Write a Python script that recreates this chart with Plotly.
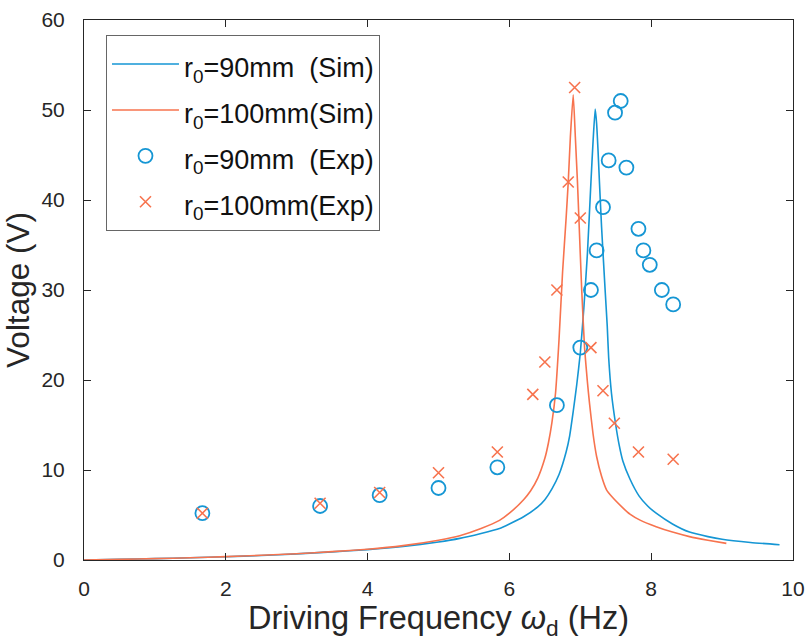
import plotly.graph_objects as go

# ---- data ----
sim90_x = [0, 0.5, 1, 1.5, 2, 2.5, 3, 3.5, 4, 4.5, 5, 5.3, 5.6, 5.86, 6.0, 6.2, 6.4, 6.5, 6.6,
           6.7, 6.8, 6.85, 6.9, 6.95, 7.0, 7.05, 7.1, 7.15, 7.18, 7.21, 7.23, 7.25, 7.27, 7.3,
           7.35, 7.38, 7.4, 7.44, 7.5, 7.55, 7.6, 7.7, 7.83, 7.95, 8.07, 8.3, 8.54, 8.8, 9.0,
           9.4, 9.81]
sim90_v = [0, 0.07, 0.15, 0.25, 0.36, 0.5, 0.68, 0.9, 1.15, 1.5, 2.0, 2.4, 2.95, 3.5, 4.0, 4.8,
           5.9, 6.7, 7.9, 9.5, 12.0, 13.8, 16.5, 19.5, 23.0, 28.0, 34.0, 42.0, 46.5, 50.1, 48.5,
           45.5, 42.0, 37.0, 30.0, 26.0, 22.5, 18.5, 15.0, 12.7, 11.0, 9.0, 7.1, 6.0, 5.2, 4.0,
           3.1, 2.6, 2.3, 1.95, 1.7]

sim100_x = [0, 0.5, 1, 1.5, 2, 2.5, 3, 3.5, 4, 4.5, 5, 5.3, 5.6, 5.86, 6.0, 6.2, 6.3, 6.4, 6.5,
            6.55, 6.6, 6.65, 6.7, 6.75, 6.8, 6.83, 6.86, 6.9, 6.93, 6.96, 6.98, 7.02, 7.06, 7.1,
            7.13, 7.18, 7.23, 7.3, 7.37, 7.45, 7.6, 7.7, 7.85, 8.07, 8.3, 8.54, 8.8, 9.06]
sim100_v = [0, 0.07, 0.15, 0.25, 0.37, 0.52, 0.7, 0.93, 1.2, 1.6, 2.2, 2.7, 3.5, 4.4, 5.2, 6.7,
            7.7, 9.1, 11.3, 13.0, 15.3, 18.5, 24.5, 32.0, 38.0, 42.0, 47.0, 51.7, 47.0, 42.0,
            38.0, 30.0, 23.6, 19.8, 17.4, 14.0, 11.5, 9.3, 7.8, 7.0, 5.8, 5.1, 4.4, 3.7, 3.1,
            2.6, 2.2, 1.85]

exp90_x = [1.67, 3.33, 4.17, 5.0, 5.83, 6.67, 7.0, 7.15, 7.23, 7.32, 7.40, 7.49, 7.57, 7.65,
           7.82, 7.89, 7.98, 8.15, 8.31]
exp90_v = [5.2, 6.0, 7.2, 8.0, 10.3, 17.2, 23.6, 30.0, 34.4, 39.2, 44.4, 49.7, 51.0, 43.6,
           36.8, 34.4, 32.8, 30.0, 28.4]

exp100_x = [1.67, 3.33, 4.17, 5.0, 5.83, 6.33, 6.5, 6.67, 6.83, 6.92, 7.0, 7.15, 7.32, 7.48,
            7.82, 8.31]
exp100_v = [5.2, 6.3, 7.5, 9.7, 12.0, 18.4, 22.0, 30.0, 42.0, 52.5, 38.0, 23.6, 18.8, 15.2,
            12.0, 11.2]

x_ticks = [0, 2, 4, 6, 8, 10]
y_ticks = [0, 10, 20, 30, 40, 50, 60]

labels = ["r<sub>0</sub>=90mm\u00a0\u00a0(Sim)", "r<sub>0</sub>=100mm(Sim)",
          "r<sub>0</sub>=90mm\u00a0\u00a0(Exp)", "r<sub>0</sub>=100mm(Exp)"]
names = ['<span style="font-size:27px">' + t + '</span>' for t in labels]

BLUE = "#1596D4"
ORANGE = "#F7734E"
AX = "#262626"
FONT = "Liberation Sans, Arial, sans-serif"

fig = go.Figure()
fig.add_trace(go.Scatter(x=sim90_x, y=sim90_v, mode="lines", name=names[0],
                         line=dict(color=BLUE, width=1.6, shape="spline", smoothing=0.5)))
fig.add_trace(go.Scatter(x=sim100_x, y=sim100_v, mode="lines", name=names[1],
                         line=dict(color=ORANGE, width=1.6, shape="spline", smoothing=0.5)))
fig.add_trace(go.Scatter(x=exp90_x, y=exp90_v, mode="markers", name=names[2],
                         marker=dict(symbol="circle-open", size=14, color=BLUE,
                                     line=dict(width=1.8, color=BLUE))))
fig.add_trace(go.Scatter(x=exp100_x, y=exp100_v, mode="markers", name=names[3],
                         marker=dict(symbol="x-thin-open", size=11, color=ORANGE,
                                     line=dict(width=1.6, color=ORANGE))))

axis_common = dict(showline=True, linecolor=AX, linewidth=1, mirror="ticks",
                   ticks="inside", ticklen=7, tickcolor=AX, tickwidth=1,
                   showgrid=False, zeroline=False, automargin=False,
                   tickfont=dict(family=FONT, size=21, color=AX))

fig.update_xaxes(range=[0, 10], tickvals=x_ticks, ticklabelstandoff=10,
                 title=dict(text="Driving Frequency <i>\u03c9</i><sub>d</sub> (Hz)",
                            font=dict(family=FONT, size=32.5, color=AX), standoff=6),
                 **axis_common)
fig.update_yaxes(range=[0, 60], tickvals=y_ticks, ticklabelstandoff=14,
                 title=dict(text="Voltage (V)",
                            font=dict(family=FONT, size=31.5, color=AX), standoff=6),
                 **axis_common)

fig.update_layout(
    template="none",
    width=806, height=644, autosize=False,
    margin=dict(l=84, r=13, t=20, b=84),
    paper_bgcolor="white", plot_bgcolor="white",
    font=dict(family=FONT, color=AX),
    legend=dict(x=0.031, y=0.972, xanchor="left", yanchor="top",
                bgcolor="white", bordercolor="#666666", borderwidth=1,
                font=dict(family=FONT, size=33, color="#111111"),
                tracegroupgap=0, itemwidth=67),
)

post = ("document.body.style.margin='0';"
        "document.body.style.overflow='hidden';"
        "document.documentElement.style.overflow='hidden';")

fig.write_html("out.html", config={"displayModeBar": False, "responsive": False},
               post_script=post)
